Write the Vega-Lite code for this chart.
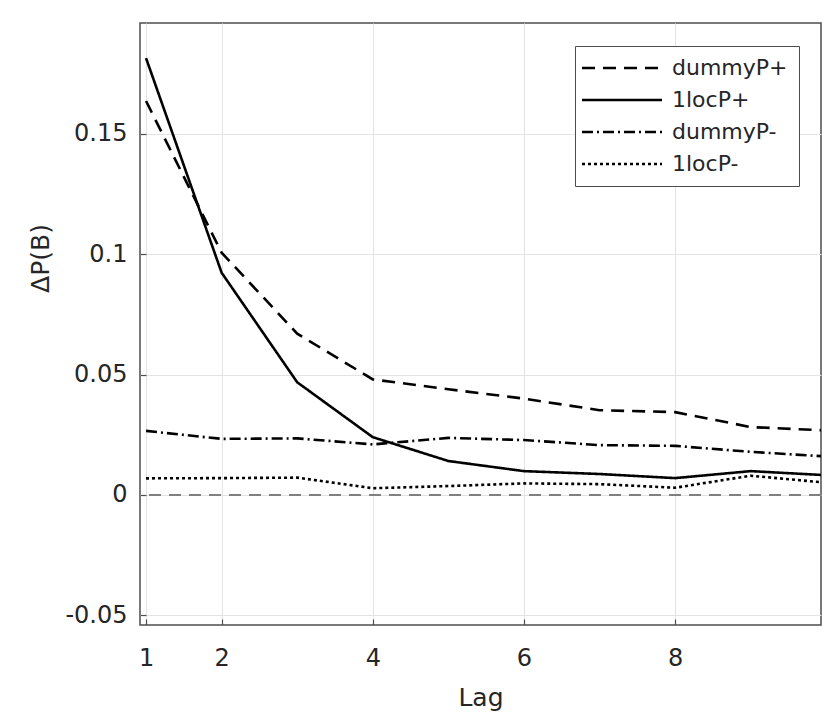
{
  "$schema": "https://vega.github.io/schema/vega-lite/v6.json",
  "autosize": "none",
  "padding": {"left": 140, "top": 23, "right": 1, "bottom": 96},
  "width": 681,
  "height": 602,
  "background": "white",
  "config": {
    "font": "DejaVu Sans",
    "view": {"stroke": "#4d4d4d", "strokeWidth": 1.5},
    "axis": {
      "domain": false,
      "grid": true,
      "gridColor": "#e3e3e3",
      "gridWidth": 1,
      "ticks": true,
      "tickSize": -6,
      "tickColor": "#4d4d4d",
      "tickWidth": 1.2,
      "labelFont": "DejaVu Sans",
      "labelFontSize": 24,
      "labelColor": "#262626",
      "titleFont": "DejaVu Sans",
      "titleFontSize": 25,
      "titleFontWeight": "normal",
      "titleColor": "#262626"
    }
  },
  "data": {
    "values": [
      {"lag": 1, "series": "dummyP+", "v": 0.1636},
      {"lag": 2, "series": "dummyP+", "v": 0.1006},
      {"lag": 3, "series": "dummyP+", "v": 0.067},
      {"lag": 4, "series": "dummyP+", "v": 0.048},
      {"lag": 5, "series": "dummyP+", "v": 0.0439},
      {"lag": 6, "series": "dummyP+", "v": 0.040},
      {"lag": 7, "series": "dummyP+", "v": 0.0352},
      {"lag": 8, "series": "dummyP+", "v": 0.0344},
      {"lag": 9, "series": "dummyP+", "v": 0.0282},
      {"lag": 10, "series": "dummyP+", "v": 0.0268},
      {"lag": 1, "series": "1locP+", "v": 0.1814},
      {"lag": 2, "series": "1locP+", "v": 0.0923},
      {"lag": 3, "series": "1locP+", "v": 0.0468},
      {"lag": 4, "series": "1locP+", "v": 0.024},
      {"lag": 5, "series": "1locP+", "v": 0.0141},
      {"lag": 6, "series": "1locP+", "v": 0.0099},
      {"lag": 7, "series": "1locP+", "v": 0.0087},
      {"lag": 8, "series": "1locP+", "v": 0.0070},
      {"lag": 9, "series": "1locP+", "v": 0.0099},
      {"lag": 10, "series": "1locP+", "v": 0.0082},
      {"lag": 1, "series": "dummyP-", "v": 0.0266},
      {"lag": 2, "series": "dummyP-", "v": 0.0233},
      {"lag": 3, "series": "dummyP-", "v": 0.0235},
      {"lag": 4, "series": "dummyP-", "v": 0.021},
      {"lag": 5, "series": "dummyP-", "v": 0.0237},
      {"lag": 6, "series": "dummyP-", "v": 0.0228},
      {"lag": 7, "series": "dummyP-", "v": 0.0207},
      {"lag": 8, "series": "dummyP-", "v": 0.0204},
      {"lag": 9, "series": "dummyP-", "v": 0.0179},
      {"lag": 10, "series": "dummyP-", "v": 0.016},
      {"lag": 1, "series": "1locP-", "v": 0.0069},
      {"lag": 2, "series": "1locP-", "v": 0.007},
      {"lag": 3, "series": "1locP-", "v": 0.0072},
      {"lag": 4, "series": "1locP-", "v": 0.0028},
      {"lag": 5, "series": "1locP-", "v": 0.0037},
      {"lag": 6, "series": "1locP-", "v": 0.0048},
      {"lag": 7, "series": "1locP-", "v": 0.0045},
      {"lag": 8, "series": "1locP-", "v": 0.003},
      {"lag": 9, "series": "1locP-", "v": 0.008},
      {"lag": 10, "series": "1locP-", "v": 0.0051}
    ]
  },
  "layer": [
    {
      "mark": {"type": "rule", "color": "#808080", "strokeDash": [12, 8], "strokeWidth": 1.5},
      "encoding": {"y": {"datum": 0, "type": "quantitative"}}
    },
    {
      "mark": {"type": "line", "color": "black", "strokeWidth": 2.6, "clip": true},
      "encoding": {
        "x": {
          "field": "lag", "type": "quantitative",
          "scale": {"domain": [0.92, 9.93], "nice": false, "zero": false},
          "axis": {"values": [1, 2, 4, 6, 8], "format": "d", "title": "Lag", "labelPadding": 27, "titleY": 80, "titleBaseline": "alphabetic"}
        },
        "y": {
          "field": "v", "type": "quantitative",
          "scale": {"domain": [-0.054, 0.196], "nice": false, "zero": false},
          "axis": {"values": [-0.05, 0, 0.05, 0.1, 0.15], "labelExpr": "toString(datum.value)", "title": "ΔP(B)", "labelPadding": 19, "titleX": -92, "titleY": 235, "titleAngle": 270, "titleBaseline": "alphabetic", "titleAlign": "center"}
        },
        "strokeDash": {
          "field": "series", "type": "nominal",
          "scale": {"domain": ["dummyP+", "1locP+", "dummyP-", "1locP-"], "range": [[13, 8], [1, 0], [11, 4, 2, 4], [3, 3]]},
          "legend": {
            "title": null,
            "orient": "none",
            "legendX": 435,
            "legendY": 23,
            "symbolType": "M-3,0H13",
            "symbolSize": 100,
            "symbolStrokeColor": "black",
            "symbolStrokeWidth": 2.5,
            "labelOffset": 64,
            "labelFontSize": 22,
            "labelFont": "DejaVu Sans",
            "labelColor": "#262626",
            "padding": 11,
            "rowPadding": 10,
            "strokeColor": "#4d4d4d",
            "fillColor": "white"
          }
        }
      }
    }
  ]
}
